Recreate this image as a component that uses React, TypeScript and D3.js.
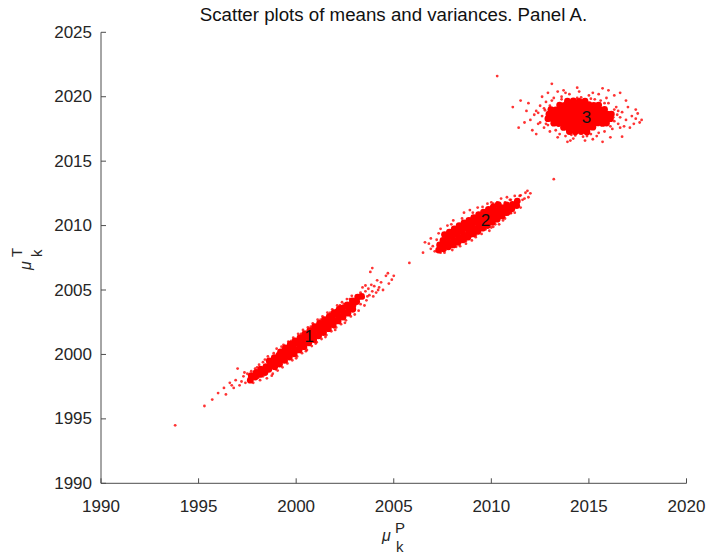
import React from "react";
import * as d3 from "d3";

const TITLE = "Scatter plots of means and variances. Panel A.";
const X_DOMAIN: [number, number] = [1990, 2020];
const Y_DOMAIN: [number, number] = [1990, 2025];
const X_TICKS = [1990, 1995, 2000, 2005, 2010, 2015, 2020];
const Y_TICKS = [1990, 1995, 2000, 2005, 2010, 2015, 2020, 2025];

// cluster labels (text, mu_P, mu_T)
const LABEL_TEXT = ["1", "2", "3"];
const LABEL_X = [2000.67, 2009.7, 2014.87];
const LABEL_Y = [2001.4, 2010.4, 2018.4];

// Cluster 1 — dense core
const cluster1Core: [number, number][] = [
  [1997.65, 1998.0], [1997.7, 1998.35], [1997.9, 1998.25], [1997.95, 1998.6], [1998.15, 1998.45], [1998.18, 1998.85],
  [1998.4, 1998.6], [1998.45, 1999.05],
  [1998.6, 1998.85], [1998.7, 1999.2], [1998.62, 1999.5],
  [1998.9, 1999.05], [1998.92, 1999.4], [1998.88, 1999.75],
  [1999.15, 1999.25], [1999.18, 1999.6], [1999.12, 1999.95], [1999.2, 2000.2],
  [1999.4, 1999.55], [1999.42, 1999.9], [1999.38, 2000.25], [1999.45, 2000.5],
  [1999.65, 1999.8], [1999.68, 2000.15], [1999.62, 2000.5], [1999.7, 2000.8],
  [1999.9, 2000.05], [1999.92, 2000.4], [1999.88, 2000.75], [1999.95, 2001.05],
  [2000.15, 2000.35], [2000.18, 2000.7], [2000.12, 2001.05], [2000.2, 2001.3],
  [2000.4, 2000.6], [2000.42, 2000.95], [2000.38, 2001.3], [2000.45, 2001.6],
  [2000.65, 2000.9], [2000.68, 2001.25], [2000.62, 2001.6], [2000.7, 2001.85],
  [2000.9, 2001.15], [2000.92, 2001.5], [2000.88, 2001.85], [2000.95, 2002.15],
  [2001.15, 2001.45], [2001.18, 2001.8], [2001.12, 2002.15], [2001.2, 2002.4],
  [2001.4, 2001.7], [2001.42, 2002.05], [2001.38, 2002.4], [2001.45, 2002.7],
  [2001.65, 2002.0], [2001.68, 2002.35], [2001.62, 2002.7], [2001.7, 2002.95],
  [2001.9, 2002.3], [2001.92, 2002.65], [2001.88, 2003.0], [2001.95, 2003.25],
  [2002.15, 2002.6], [2002.18, 2002.95], [2002.12, 2003.3], [2002.2, 2003.5],
  [2002.4, 2002.9], [2002.42, 2003.25], [2002.38, 2003.6],
  [2002.65, 2003.2], [2002.68, 2003.55], [2002.62, 2003.85],
  [2002.9, 2003.5], [2002.92, 2003.85], [2002.88, 2004.15],
  [2003.1, 2004.1], [2003.15, 2004.45], [2003.35, 2004.5],
];

// Cluster 1 — scattered points
const cluster1Spread: [number, number][] = [
  [1995.3, 1996.0], [1995.7, 1996.5], [1996.0, 1997.0], [1996.3, 1997.4], [1996.6, 1997.8], [1996.4, 1996.9],
  [1996.8, 1997.4], [1996.9, 1998.0], [1997.0, 1998.9], [1997.2, 1997.9], [1997.3, 1998.3], [1997.4, 1997.8],
  [1997.5, 1998.5], [1997.6, 1998.1], [1997.7, 1998.7], [1997.8, 1998.3], [1997.9, 1998.9], [1998.0, 1998.5],
  [1998.05, 1998.2], [1998.1, 1999.2], [1998.2, 1998.7], [1998.3, 1999.4], [1997.1, 1997.6], [1996.7, 1997.6],
  [1997.35, 1998.6], [1998.15, 1998.0],
  [1998.5, 1998.15], [1998.55, 1999.85], [1998.8, 1998.5], [1998.85, 2000.1], [1999.0, 2000.45], [1999.05, 1998.75],
  [1999.3, 1999.0], [1999.35, 2000.75], [1999.55, 1999.3], [1999.6, 2001.0], [1999.8, 1999.55], [1999.85, 2001.3],
  [2000.05, 1999.85], [2000.1, 2001.6], [2000.3, 2000.1], [2000.35, 2001.9], [2000.55, 2000.35], [2000.6, 2002.1],
  [2000.8, 2000.65], [2000.85, 2002.4], [2001.05, 2000.95], [2001.1, 2002.7], [2001.3, 2001.2], [2001.35, 2002.95],
  [2001.55, 2001.5], [2001.6, 2003.25], [2001.8, 2001.8], [2001.85, 2003.5], [2002.05, 2002.1], [2002.1, 2003.8],
  [2002.3, 2002.35], [2002.35, 2004.05], [2002.55, 2002.65], [2002.6, 2004.3], [2002.8, 2002.95], [2002.85, 2004.55],
  [1998.95, 1998.85], [1999.45, 2000.6], [1999.95, 1999.95], [2000.45, 2001.75], [2000.95, 2001.0], [2001.45, 2002.8],
  [2001.95, 2002.1], [2002.45, 2003.9], [1999.2, 1999.2], [2001.2, 2002.55], [2000.7, 2000.75], [2002.2, 2003.7],
  [2003.0, 2003.6], [2003.05, 2004.3], [2003.15, 2004.0], [2003.25, 2004.6], [2003.3, 2003.9], [2003.4, 2005.2],
  [2003.45, 2004.4], [2003.55, 2004.9], [2003.6, 2004.2], [2003.7, 2005.1], [2003.75, 2004.6], [2003.85, 2005.4],
  [2003.9, 2004.9], [2004.0, 2005.3], [2004.1, 2004.8], [2004.15, 2005.75], [2004.25, 2005.2], [2004.35, 2005.6],
  [2004.45, 2005.0], [2004.6, 2006.1], [2004.7, 2006.3], [2004.75, 2005.5], [2003.8, 2006.4], [2005.0, 2006.1],
  [2004.9, 2005.8], [2003.2, 2003.4], [2003.9, 2006.7],
  [1998.4, 1999.6], [1998.75, 1998.35], [1999.25, 2000.6], [1999.5, 1999.45], [1999.75, 2001.05], [2000.0, 1999.7],
  [2000.25, 2001.6], [2000.5, 2000.25], [2000.75, 2002.15], [2001.0, 2000.85], [2001.25, 2002.7], [2001.5, 2001.35],
  [2001.75, 2003.25], [2002.0, 2001.9], [2002.25, 2003.8], [2002.5, 2002.45], [2002.75, 2004.3], [2003.0, 2003.1],
  [1998.0, 1999.0], [1997.8, 1997.8], [1998.3, 1998.3],
  [2003.5, 2003.8], [2003.65, 2004.5], [2003.3, 2004.8], [2003.55, 2005.35], [2003.95, 2004.5], [2004.2, 2005.0],
];

// Cluster 2 — dense core
const cluster2Core: [number, number][] = [
  [2007.3, 2008.1], [2007.35, 2008.5],
  [2007.55, 2008.2], [2007.58, 2008.55], [2007.52, 2008.85],
  [2007.8, 2008.35], [2007.83, 2008.7], [2007.78, 2009.05],
  [2008.05, 2008.5], [2008.08, 2008.85], [2008.02, 2009.2], [2008.1, 2009.45],
  [2008.3, 2008.7], [2008.33, 2009.05], [2008.28, 2009.4], [2008.35, 2009.7],
  [2008.55, 2008.9], [2008.58, 2009.25], [2008.52, 2009.6], [2008.6, 2009.9],
  [2008.8, 2009.1], [2008.83, 2009.45], [2008.78, 2009.8], [2008.85, 2010.1],
  [2009.05, 2009.35], [2009.08, 2009.7], [2009.02, 2010.05], [2009.1, 2010.3],
  [2009.3, 2009.55], [2009.33, 2009.9], [2009.28, 2010.25], [2009.35, 2010.55],
  [2009.55, 2009.8], [2009.58, 2010.15], [2009.52, 2010.5], [2009.6, 2010.75],
  [2009.8, 2010.0], [2009.83, 2010.35], [2009.78, 2010.7], [2009.85, 2010.95],
  [2010.05, 2010.25], [2010.08, 2010.6], [2010.02, 2010.9], [2010.1, 2011.15],
  [2010.3, 2010.5], [2010.33, 2010.85], [2010.28, 2011.15],
  [2010.55, 2010.75], [2010.58, 2011.1], [2010.52, 2011.4],
  [2010.8, 2011.0], [2010.83, 2011.35], [2010.78, 2011.6],
  [2011.05, 2011.3], [2011.08, 2011.65],
  [2011.3, 2011.55], [2011.33, 2011.9],
  [2007.6, 2009.3], [2007.85, 2009.5], [2008.1, 2009.75], [2008.35, 2010.0], [2008.6, 2010.2], [2008.85, 2010.4],
  [2009.1, 2010.62], [2009.35, 2010.85], [2009.6, 2011.05], [2009.85, 2011.25], [2010.1, 2011.45], [2010.35, 2011.62],
];

// Cluster 2 — scattered points
const cluster2Spread: [number, number][] = [
  [2006.5, 2007.9], [2006.9, 2008.2], [2006.6, 2008.7], [2006.9, 2009.0], [2007.3, 2009.4], [2007.5, 2008.9],
  [2007.9, 2008.7], [2008.25, 2009.0], [2011.5, 2012.35], [2011.85, 2012.7], [2012.0, 2012.5], [2011.3, 2011.8],
  [2011.7, 2012.1], [2011.0, 2012.0], [2010.5, 2012.1], [2010.1, 2011.7], [2010.0, 2011.8],
  [2008.9, 2009.1], [2009.4, 2009.5], [2010.1, 2009.9], [2010.6, 2010.4], [2011.0, 2010.95], [2008.6, 2009.6],
  [2008.6, 2011.0], [2008.05, 2010.4], [2009.3, 2011.4], [2009.8, 2011.7], [2007.75, 2010.0], [2008.9, 2011.2],
  [2010.3, 2011.8], [2010.8, 2012.2],
  [2007.0, 2008.4], [2007.2, 2008.9], [2007.4, 2007.9], [2007.7, 2009.3], [2008.0, 2008.1], [2008.4, 2009.9],
  [2008.7, 2008.6], [2009.0, 2010.5], [2009.2, 2009.1], [2009.6, 2011.1], [2009.9, 2009.6], [2010.2, 2011.5],
  [2010.4, 2010.1], [2010.7, 2011.8], [2011.0, 2011.0], [2011.2, 2012.3], [2011.5, 2011.4], [2011.6, 2012.0],
  [2011.9, 2012.2], [2011.75, 2012.55],
  [2007.6, 2007.9], [2007.9, 2009.4], [2008.2, 2008.35], [2008.45, 2010.0], [2008.7, 2008.8], [2008.95, 2010.5],
  [2009.2, 2009.25], [2009.45, 2010.95], [2009.7, 2009.7], [2009.95, 2011.35], [2010.2, 2010.1], [2010.45, 2011.7],
  [2010.7, 2010.55], [2010.95, 2012.0], [2011.2, 2011.0], [2011.45, 2012.3], [2006.8, 2008.6], [2007.1, 2008.0],
  [2007.4, 2009.75], [2007.95, 2010.1], [2008.5, 2010.55], [2009.05, 2011.0], [2009.55, 2011.45], [2008.4, 2008.4],
  [2009.0, 2008.85], [2009.5, 2009.35], [2010.0, 2009.85],
];

// Cluster 3 — dense core
const cluster3Core: [number, number][] = [
  [2014.0, 2017.3], [2014.3, 2017.28], [2014.6, 2017.3], [2014.9, 2017.27],
  [2013.7, 2017.62], [2013.95, 2017.58], [2014.2, 2017.63], [2014.45, 2017.57], [2014.7, 2017.61], [2014.95, 2017.6], [2015.2, 2017.64],
  [2013.2, 2017.95], [2013.45, 2017.92], [2013.7, 2017.97], [2013.95, 2017.93], [2014.2, 2017.96], [2014.45, 2017.94],
  [2014.7, 2017.98], [2014.95, 2017.92], [2015.2, 2017.95], [2015.45, 2017.97], [2015.7, 2017.93], [2015.9, 2017.96],
  [2012.9, 2018.3], [2013.15, 2018.28], [2013.4, 2018.32], [2013.65, 2018.27], [2013.9, 2018.31], [2014.15, 2018.29],
  [2014.4, 2018.33], [2014.65, 2018.28], [2014.9, 2018.3], [2015.15, 2018.32], [2015.4, 2018.27], [2015.65, 2018.31],
  [2015.9, 2018.29], [2016.1, 2018.3],
  [2012.95, 2018.65], [2013.2, 2018.63], [2013.45, 2018.67], [2013.7, 2018.62], [2013.95, 2018.66], [2014.2, 2018.64],
  [2014.45, 2018.68], [2014.7, 2018.63], [2014.95, 2018.65], [2015.2, 2018.67], [2015.45, 2018.62], [2015.7, 2018.66],
  [2015.95, 2018.64], [2016.15, 2018.65],
  [2013.05, 2019.0], [2013.3, 2018.98], [2013.55, 2019.02], [2013.8, 2018.97], [2014.05, 2019.01], [2014.3, 2018.99],
  [2014.55, 2019.03], [2014.8, 2018.98], [2015.05, 2019.0], [2015.3, 2019.02], [2015.55, 2018.97], [2015.8, 2019.01],
  [2013.5, 2019.35], [2013.75, 2019.33], [2014.0, 2019.37], [2014.25, 2019.32], [2014.5, 2019.36], [2014.75, 2019.34],
  [2015.0, 2019.38], [2015.25, 2019.33], [2015.5, 2019.35],
  [2013.9, 2019.65], [2014.2, 2019.68], [2014.5, 2019.64], [2014.8, 2019.66],
];

// Cluster 3 — scattered points
const cluster3Spread: [number, number][] = [
  [2013.1, 2021.0], [2014.4, 2020.7], [2015.7, 2020.65], [2012.9, 2020.3], [2013.4, 2020.4], [2016.6, 2020.3],
  [2016.3, 2020.1], [2011.1, 2019.2], [2011.5, 2019.7], [2011.4, 2017.6], [2012.1, 2017.4], [2017.6, 2018.0],
  [2017.5, 2018.7], [2017.0, 2019.2], [2015.7, 2016.5], [2014.8, 2016.6], [2013.4, 2016.85], [2014.05, 2016.6],
  [2016.1, 2016.85], [2017.1, 2017.6],
  [2012.0, 2018.2], [2012.3, 2018.9], [2012.5, 2019.3], [2012.4, 2017.9], [2012.6, 2018.5], [2012.2, 2018.6],
  [2012.7, 2017.6], [2012.8, 2019.6], [2013.0, 2017.3], [2013.2, 2019.9], [2013.5, 2017.1], [2013.6, 2020.0],
  [2013.8, 2016.95], [2014.0, 2020.2], [2014.3, 2017.0], [2014.6, 2019.95], [2014.7, 2016.9], [2015.0, 2020.1],
  [2015.1, 2017.1], [2015.3, 2019.8], [2015.4, 2016.95], [2015.6, 2019.7], [2015.8, 2017.3], [2016.0, 2019.5],
  [2016.2, 2017.5], [2016.4, 2019.2], [2016.5, 2017.9], [2016.6, 2018.4], [2016.7, 2018.8], [2016.8, 2017.7],
  [2016.9, 2018.2], [2017.2, 2018.5], [2017.3, 2017.9], [2017.4, 2018.3], [2017.7, 2018.2], [2016.3, 2018.1],
  [2016.45, 2018.6], [2012.9, 2017.8], [2013.0, 2019.3], [2012.75, 2018.95], [2015.9, 2019.9], [2014.2, 2016.75],
  [2015.2, 2016.7], [2014.5, 2020.4], [2015.2, 2020.3], [2013.7, 2020.5], [2016.0, 2020.5], [2012.6, 2020.0],
  [2011.8, 2018.9], [2011.7, 2018.0], [2016.7, 2016.9], [2017.4, 2019.0], [2013.9, 2016.5], [2012.3, 2017.1],
  [2012.5, 2018.0], [2012.7, 2019.1], [2012.8, 2017.9], [2013.1, 2019.7], [2013.3, 2017.4], [2013.6, 2019.8],
  [2014.1, 2017.05], [2014.4, 2019.9], [2014.9, 2016.95], [2015.1, 2019.85], [2015.5, 2017.2], [2015.8, 2019.5],
  [2016.1, 2017.7], [2016.3, 2019.0], [2016.5, 2018.9], [2016.6, 2017.6], [2016.25, 2018.4], [2012.4, 2018.75],
  [2013.8, 2020.3], [2015.5, 2020.2], [2016.9, 2019.7], [2011.9, 2019.5],
];

// Isolated points
const outliers: [number, number][] = [
  [1993.8, 1994.5], [2005.8, 2007.1], [2013.2, 2013.6], [2010.3, 2021.6],
];

const W = 709;
const H = 557;
const FONT = "'Liberation Sans', Arial, Helvetica, sans-serif";
const TEXT = "#262626";

export default function App() {
  const x = d3.scaleLinear().domain(X_DOMAIN).range([101, 686.5]);
  const y = d3.scaleLinear().domain(Y_DOMAIN).range([483.3, 32.3]);
  const x0 = x(X_DOMAIN[0]);
  const y0 = y(Y_DOMAIN[0]);

  const core = [...cluster1Core, ...cluster2Core, ...cluster3Core];
  const spread = [...cluster1Spread, ...cluster2Spread, ...cluster3Spread, ...outliers];

  return (
    <svg
      width={W}
      height={H}
      style={{ position: "absolute", left: 0, top: 0, background: "#fff" }}
      fontFamily={FONT}
    >
      <rect x={0} y={0} width={W} height={H} fill="#fff" />
      {/* points */}
      <g fill="#ff0000">
        {spread.map((p, i) => (
          <circle key={"s" + i} cx={x(p[0])} cy={y(p[1])} r={1.4} opacity={0.8} />
        ))}
        {core.map((p, i) => (
          <circle key={"c" + i} cx={x(p[0])} cy={y(p[1])} r={3.4} />
        ))}
      </g>
      {/* cluster labels */}
      {LABEL_TEXT.map((t, i) => (
        <text
          key={"l" + i}
          x={x(LABEL_X[i])}
          y={y(LABEL_Y[i])}
          textAnchor="middle"
          dominantBaseline="central"
          fontSize={17}
          fill="#111"
        >
          {t}
        </text>
      ))}
      {/* axes */}
      <g stroke="#4d4d4d" strokeWidth={1} fill="none">
        <line x1={x0} y1={y(Y_DOMAIN[1])} x2={x0} y2={y0} />
        <line x1={x0} y1={y0} x2={x(X_DOMAIN[1])} y2={y0} />
        {Y_TICKS.map((t) => (
          <line key={"yt" + t} x1={x0} x2={x0 + 5} y1={y(t)} y2={y(t)} />
        ))}
        {X_TICKS.map((t) => (
          <line key={"xt" + t} x1={x(t)} x2={x(t)} y1={y0} y2={y0 - 5} />
        ))}
      </g>
      <g fill={TEXT} fontSize={17}>
        {Y_TICKS.map((t) => (
          <text key={"yl" + t} x={x0 - 9} y={y(t)} textAnchor="end" dominantBaseline="central">
            {t}
          </text>
        ))}
        {X_TICKS.map((t) => (
          <text key={"xl" + t} x={x(t)} y={512} textAnchor="middle">
            {t}
          </text>
        ))}
      </g>
      {/* title */}
      <text x={393.5} y={21} textAnchor="middle" fontSize={18.7} fill="#111">
        {TITLE}
      </text>
      {/* x label: mu_k^P */}
      <g fill={TEXT}>
        <text x={382} y={541} fontSize={16} fontStyle="italic">μ</text>
        <text x={395} y={533} fontSize={15}>P</text>
        <text x={396} y={552} fontSize={15}>k</text>
      </g>
      {/* y label: mu_k^T (rotated) */}
      <g fill={TEXT} transform="rotate(-90)">
        <text x={-270} y={31} fontSize={16} fontStyle="italic">μ</text>
        <text x={-257} y={22} fontSize={15}>T</text>
        <text x={-257} y={42} fontSize={15}>k</text>
      </g>
    </svg>
  );
}
